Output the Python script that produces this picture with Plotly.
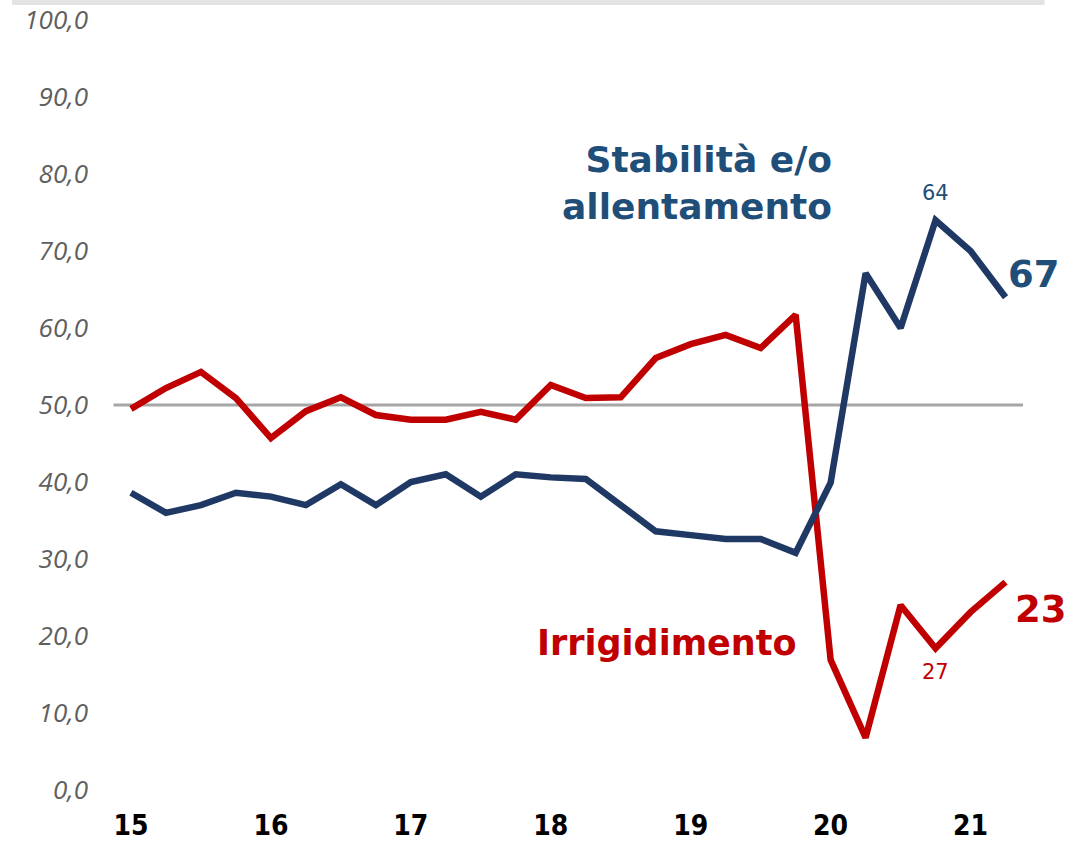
import plotly.graph_objects as go

# Quarterly survey balance, 2015 Q1 - 2021 Q2
quarters = list(range(26))
year_ticks = [0, 4, 8, 12, 16, 20, 24]
year_labels = ["15", "16", "17", "18", "19", "20", "21"]

stabilita = [38.6, 36.0, 37.0, 38.6, 38.1, 37.0, 39.7, 37.0, 40.0, 41.0,
             38.1, 41.0, 40.6, 40.4, 37.0, 33.6, 33.1, 32.6, 32.6, 30.8,
             39.9, 67.1, 60.0, 74.0, 70.0, 64.0]
irrigidimento = [49.5, 52.2, 54.3, 50.9, 45.7, 49.2, 51.0, 48.7, 48.1, 48.1,
                 49.1, 48.1, 52.6, 50.9, 51.0, 56.1, 57.9, 59.1, 57.4, 61.7,
                 16.9, 6.8, 24.0, 18.4, 23.1, 27.0]

y_ticks = list(range(0, 101, 10))
y_labels = [f"{v},0" for v in y_ticks]

BLUE = "#1F3864"
BLUE_TXT = "#1F4E79"
RED = "#C00000"
FONT = "DejaVu Sans"

fig = go.Figure()
fig.add_trace(go.Scatter(x=quarters, y=irrigidimento, mode="lines",
                         line=dict(color=RED, width=6.5), hoverinfo="skip"))
fig.add_trace(go.Scatter(x=quarters, y=stabilita, mode="lines",
                         line=dict(color=BLUE, width=6.5), hoverinfo="skip"))

# reference line at 50
fig.add_shape(type="line", x0=-0.5, x1=25.5, y0=50, y1=50,
              line=dict(color="#A6A6A6", width=3), layer="below")
# thin band along the top
fig.add_shape(type="rect", xref="paper", yref="paper",
              x0=-0.0873, x1=0.986, y0=1.0195, y1=1.026,
              line=dict(width=0), fillcolor="#E3E3E3")

# series names and end-of-period labels
fig.add_annotation(x=20.1, y=78.8, xref="x", yref="y",
                   text="<b>Stabilità e/o<br>allentamento</b>",
                   showarrow=False, xanchor="right", yanchor="middle", align="right",
                   font=dict(family=FONT, size=36, color=BLUE_TXT))
fig.add_annotation(x=19.1, y=19.1, xref="x", yref="y",
                   text="<b>Irrigidimento</b>", showarrow=False,
                   xanchor="right", yanchor="middle",
                   font=dict(family=FONT, size=35, color=RED))
fig.add_annotation(x=25.0, y=67.0, xref="x", yref="y",
                   text="<b>67</b>", showarrow=False, xanchor="left", yanchor="middle",
                   font=dict(family=FONT, size=37, color=BLUE_TXT))
fig.add_annotation(x=25.2, y=23.5, xref="x", yref="y",
                   text="<b>23</b>", showarrow=False, xanchor="left", yanchor="middle",
                   font=dict(family=FONT, size=37, color=RED))
fig.add_annotation(x=23, y=stabilita[23], xref="x", yref="y",
                   text=f"{stabilita[25]:.0f}", showarrow=False, yshift=27,
                   font=dict(family=FONT, size=21, color=BLUE_TXT))
fig.add_annotation(x=23, y=irrigidimento[23], xref="x", yref="y",
                   text=f"{irrigidimento[25]:.0f}", showarrow=False, yshift=-24,
                   font=dict(family=FONT, size=21, color=RED))

fig.update_layout(
    width=1084, height=842,
    margin=dict(l=96, r=25.5, t=20, b=52),
    paper_bgcolor="white", plot_bgcolor="white",
    showlegend=False,
    xaxis=dict(range=[-1, 26.5], tickvals=year_ticks, ticktext=year_labels,
               showgrid=False, zeroline=False, showline=False, ticks="",
               automargin=False, ticklabelstandoff=16,
               tickfont=dict(family="DejaVu Sans Condensed", size=28, color="black",
                             weight="bold")),
    yaxis=dict(range=[0, 100], tickvals=y_ticks, ticktext=y_labels,
               showgrid=False, zeroline=False, showline=False, ticks="",
               automargin=False, ticklabelstandoff=7,
               tickfont=dict(family="Open Sans", size=26, color="#5F5F5F",
                             style="italic")),
)

fig.write_html("out.html")
